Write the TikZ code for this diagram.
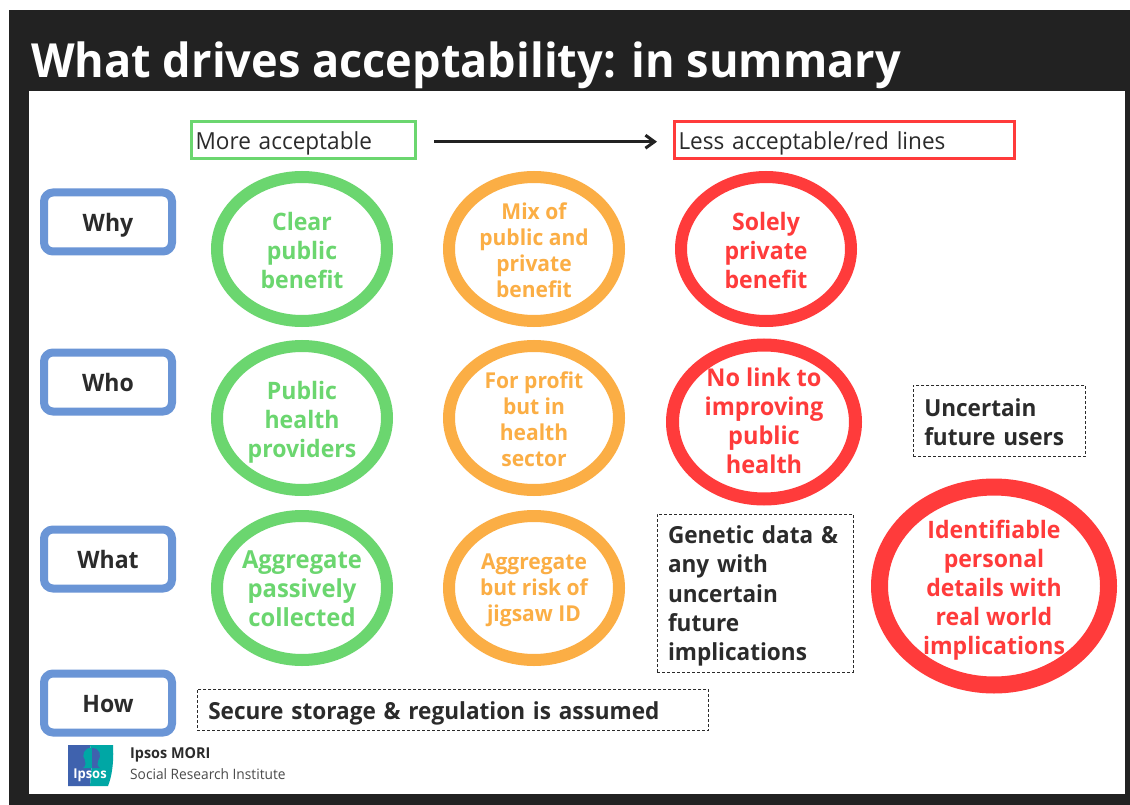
\documentclass[tikz,border=0pt]{standalone}
\usepackage{fontspec}
\setmainfont[FakeStretch=0.96]{Open Sans}
\usetikzlibrary{shapes.geometric,arrows.meta}
\definecolor{frame}{HTML}{222222}
\definecolor{ink}{HTML}{2B2B2B}
\definecolor{grn}{HTML}{6BD66F}
\definecolor{org}{HTML}{FBAE45}
\definecolor{rd}{HTML}{FF3B3B}
\definecolor{blu}{HTML}{6A95D6}
\definecolor{lgblue}{HTML}{3F62AE}
\definecolor{lgteal}{HTML}{00A7A5}
\tikzset{
 x=1pt,y=-1pt,
 oval/.style={ellipse,draw,line width=12,minimum width=170,minimum height=144,inner sep=0},
 gov/.style={oval,draw=grn},
 oov/.style={oval,draw=org},
 rov/.style={oval,draw=rd},
 words/.style={inner sep=0,align=center,text=#1,font=\fontsize{24}{29}\selectfont\bfseries},
 owords/.style={inner sep=0,align=center,text=org,font=\fontsize{21.9}{26}\selectfont\bfseries},
 tag/.style={draw=blu,line width=8,rounded corners=9,minimum width=128,minimum height=59,inner sep=0},
 tagwords/.style={inner sep=0,text=ink,font=\fontsize{24}{28}\selectfont\bfseries},
 scalebox/.style={line width=3,minimum height=37,minimum width=#1,inner sep=0},
 scalewords/.style={inner sep=0,text=ink,align=left,text width=#1,font=\fontsize{23.5}{28}\selectfont},
 dbox/.style={draw=ink,densely dashed,line width=.8,inner sep=0},
 dwords/.style={inner sep=0,text=ink,align=left,text width=#1,font=\fontsize{23.5}{29.3}\selectfont\bfseries},
}
\begin{document}
\begin{tikzpicture}
\useasboundingbox (0,0) rectangle (1130,805);
\fill[white] (0,0) rectangle (1130,805);
\fill[frame] (9,10) rectangle (1130,805);
\fill[white] (29,91) rectangle (1125,794);
\node[anchor=west,text=white,inner sep=0,font=\fontsize{47}{56}\selectfont\bfseries] (title) at (31,65) {What drives acceptability: in summary};

\node[scalebox=224,draw=grn,label={[scalewords=224,yshift=-3]center:\hspace{4pt}More acceptable}] (more) at (303.5,140) {};
\node[scalebox=340,draw=rd,label={[scalewords=340,yshift=-3]center:\hspace{4pt}Less acceptable/red lines}] (less) at (844.5,140) {};
\draw[-{Straight Barb[length=9,width=13,line width=3]},line width=3,draw=frame,shorten <=17,shorten >=16] ([yshift=-1.7]more.east) -- ([yshift=-1.7]less.west);

\node[tag,label={[tagwords,yshift=-3]center:Why}] (why) at (108,222) {};
\node[tag,label={[tagwords,yshift=-.5]center:Who}] (who) at (108,382) {};
\node[tag,label={[tagwords,yshift=-.3]center:What}] (what) at (108,559) {};
\node[tag,label={[tagwords,yshift=-1]center:How}] (how) at (108,703) {};

\node[gov,label={[words=grn,yshift=-1]center:Clear\\public\\benefit}] (g1) at (302,249) {};
\node[gov,label={[words=grn,yshift=-4]center:Public\\health\\providers}] (g2) at (302,418) {};
\node[gov,label={[words=grn,font=\fontsize{24.8}{29}\selectfont\bfseries,yshift=-.5]center:Aggregate\\passively\\collected}] (g3) at (302,588) {};

\node[oov,label={[owords,yshift=-1.5]center:Mix of\\public and\\private\\benefit}] (o1) at (534,249) {};
\node[oov,label={[owords,yshift=-1]center:For profit\\but in\\health\\sector}] (o2) at (534,418) {};
\node[oov,label={[owords,yshift=-2]center:Aggregate\\but risk of\\jigsaw ID}] (o3) at (534,588) {};

\node[rov,label={[words=rd,yshift=-1]center:Solely\\private\\benefit}] (r1) at (766,249) {};
\node[rov,line width=13,minimum width=183,minimum height=154,label={[words=rd,font=\fontsize{24.5}{29}\selectfont\bfseries,yshift=1]center:No link to\\improving\\public\\health}] (r2) at (764,422) {};
\node[rov,line width=17,minimum width=229,minimum height=198,label={[words=rd,yshift=-4]center:Identifiable\\personal\\details with\\real world\\implications}] (r3) at (994,586) {};

\node[dbox,minimum width=172.5,minimum height=71,label={[dwords=172.5,yshift=-2]center:\hspace{11pt}Uncertain\\\hspace{11pt}future users}] (d1) at (999.5,420.5) {};
\node[dbox,minimum width=196,minimum height=158,label={[dwords=196,yshift=-3]center:\hspace{11pt}Genetic data \&\\\hspace{11pt}any with\\\hspace{11pt}uncertain\\\hspace{11pt}future\\\hspace{11pt}implications}] (d2) at (755,593) {};
\node[dbox,minimum width=511.5,minimum height=41,label={[dwords=511.5,yshift=-4]center:\hspace{11pt}Secure storage \& regulation is assumed}] (d3) at (453,709.5) {};

% logo
\fill[lgblue] (68,745) -- (90,745) .. controls (93,755) and (91,775) .. (90,786) -- (68,786) -- cycle;
\fill[lgteal] (90,745) -- (113,745) .. controls (114,762) and (112,776) .. (108,786) -- (90,786) .. controls (91,775) and (93,755) .. (90,745) -- cycle;
\fill[lgteal] (92,748) .. controls (84,747) and (81,756) .. (85,760) .. controls (86,763) and (86,766) .. (83,768) -- (92,768) -- cycle;
\fill[lgblue] (92,748) .. controls (100,748) and (102,756) .. (98,761) .. controls (97,764) and (97,766) .. (100,768) -- (92,768) -- cycle;
\node[text=white,inner sep=0,font=\fontsize{13.5}{15}\selectfont\bfseries] (logo) at (90,775.5) {Ipsos};
\node[anchor=west,inner sep=0,text=ink,font=\fontsize{15}{18}\selectfont\bfseries] (ipsos) at (130,755) {Ipsos MORI};
\node[anchor=west,inner sep=0,text=ink!85,font=\fontsize{14.3}{18}\selectfont] (sri) at (130,774) {Social Research Institute};
\end{tikzpicture}
\end{document}
